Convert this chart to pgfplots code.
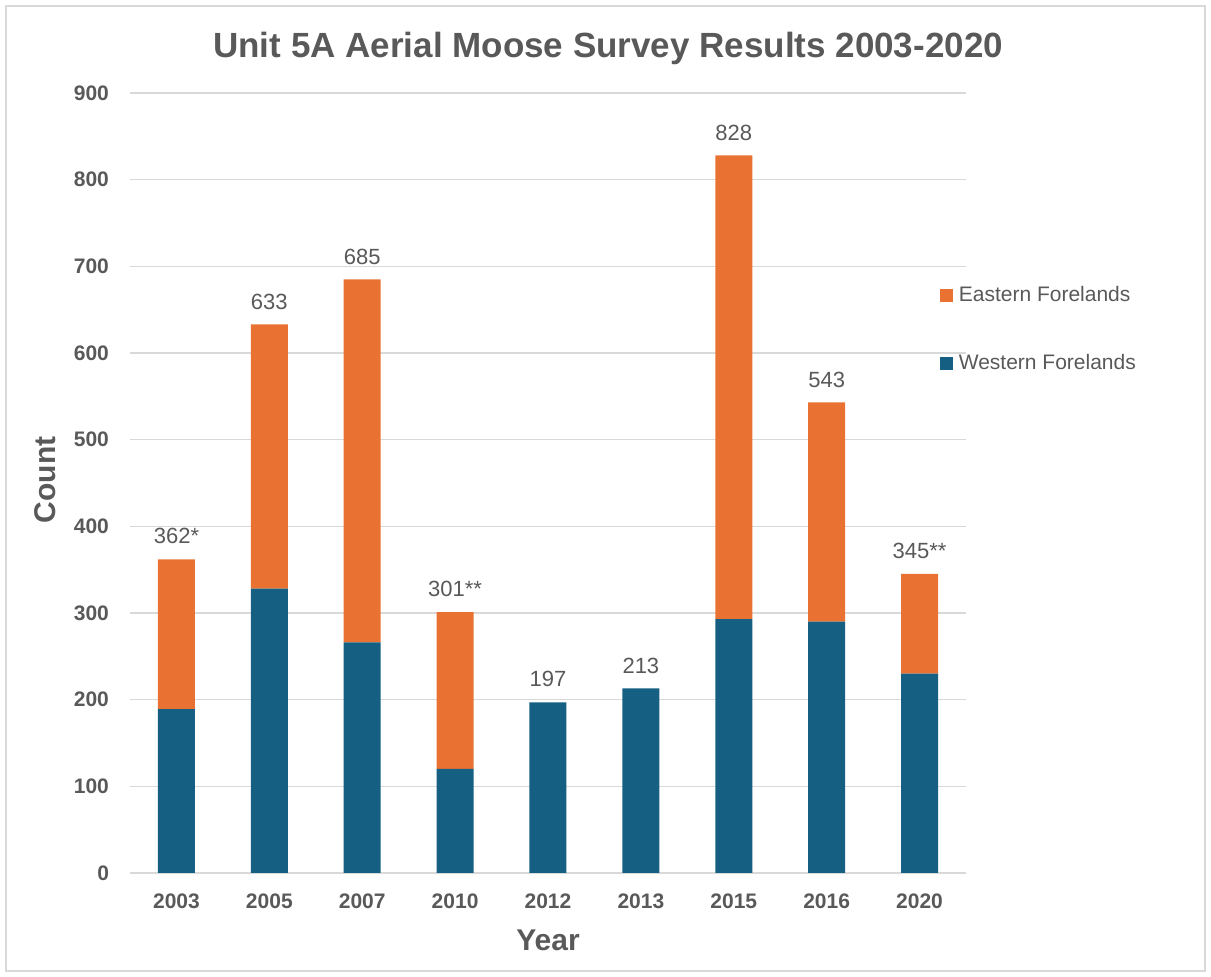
\documentclass[border=0pt]{standalone}
\usepackage{pgfplots}
\pgfplotsset{compat=1.18}
\usepackage{pgfplotstable}
\usepackage{fontspec}
\setmainfont{Liberation Sans}
\definecolor{eastc}{HTML}{E97132}
\definecolor{westc}{HTML}{156082}
\definecolor{txtc}{HTML}{595959}
\definecolor{gridc}{HTML}{D9D9D9}
\pgfplotstableread{
x west
0 189
1 328
2 266
3 120
4 197
5 213
6 293
7 290
8 230
}\westdata
\pgfplotstableread{
x east
0 173
1 305
2 419
3 181
4 0
5 0
6 535
7 253
8 115
}\eastdata
\pgfplotstableread{
x total label
0 362 362*
1 633 633
2 685 685
3 301 301**
4 197 197
5 213 213
6 828 828
7 543 543
8 345 345**
}\totaldata
\pgfplotsset{
  commonaxis/.style={
    at={(0,0)}, anchor=south west,
    scale only axis, width=418pt, height=390pt,
    xmin=-0.5, xmax=8.5, ymin=0, ymax=900,
  }
}
\begin{document}
\begin{tikzpicture}
\useasboundingbox (-65pt,-52pt) rectangle (540.5pt,436.5pt);
\draw[gridc,line width=0.6pt] (-62pt,-49pt) rectangle (537.5pt,433.5pt);
\begin{axis}[
  commonaxis,
  ybar stacked, bar width=18.5pt,
  xtick={0,...,8},
  xticklabels={2003,2005,2007,2010,2012,2013,2015,2016,2020},
  ytick={0,100,...,900},
  axis x line*=bottom, axis y line*=left,
  x axis line style={gridc, line width=1pt},
  y axis line style={draw=none},
  ymajorgrids, grid style={gridc, line width=0.7pt},
  major tick length=0pt,
  tick label style={font=\fontsize{10.5}{12}\selectfont\bfseries, text=txtc},
  /pgf/number format/assume math mode=true,
  xticklabel style={yshift=-7pt},
  yticklabel style={xshift=-7pt},
  ylabel={Count}, xlabel={Year},
  label style={font=\fontsize{15}{18}\selectfont\bfseries, text=txtc},
  ylabel style={at={(axis description cs:-0.102,0.504)}, anchor=center},
  xlabel style={at={(axis description cs:0.5,-0.086)}, anchor=center},
  title={Unit 5A Aerial Moose Survey Results 2003-2020},
  title style={at={(axis description cs:0.572,1.042)}, anchor=center, font=\fontsize{17.5}{21}\selectfont\bfseries, text=txtc},
  reverse legend,
  legend style={at={(axis description cs:0.968,0.697)}, anchor=west, draw=none, fill=none,
    font=\fontsize{10.5}{12}\selectfont, text=txtc, row sep=22pt, inner sep=0pt,
    nodes={inner sep=1.5pt}},
  legend cell align=left,
  legend image code/.code={\fill[#1] (0pt,-3.3pt) rectangle (6.6pt,3.3pt);},
]
\addplot[fill=westc, draw=none] table[x=x,y=west]{\westdata};
\addlegendentry{\hspace{1.5pt}Western Forelands}
\addplot[fill=eastc, draw=none] table[x=x,y=east]{\eastdata};
\addlegendentry{\hspace{1.5pt}Eastern Forelands}
\end{axis}
\begin{axis}[commonaxis, hide axis]
\addplot[only marks, mark=none,
  point meta=explicit symbolic,
  nodes near coords,
  nodes near coords style={font=\fontsize{11}{13}\selectfont, text=txtc, anchor=south, yshift=4pt}
  ] table[x=x,y=total,meta=label]{\totaldata};
\end{axis}
\end{tikzpicture}
\end{document}
